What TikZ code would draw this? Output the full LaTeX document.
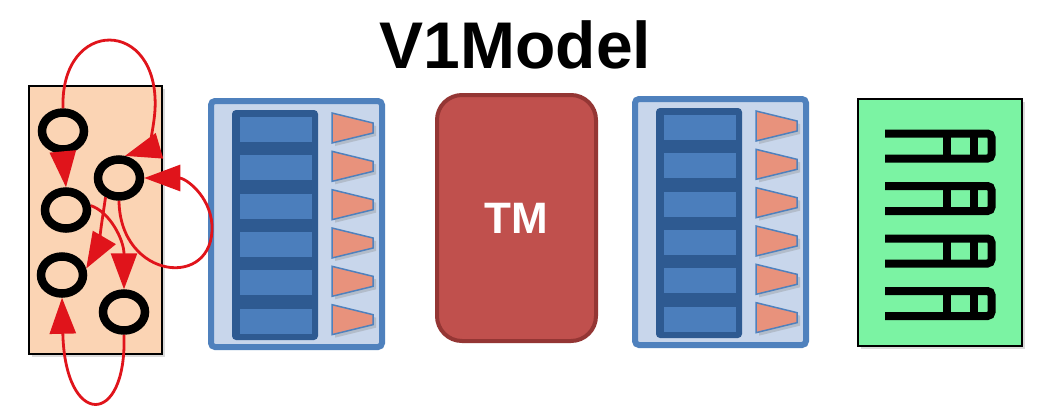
\documentclass[tikz,border=0pt]{standalone}
\usepackage{fontspec}
\setmainfont{Liberation Sans}
\usetikzlibrary{arrows.meta,shadows,shapes.geometric}
\definecolor{peach}{HTML}{FBD4B4}
\definecolor{mint}{HTML}{7BF3A3}
\definecolor{bankblue}{HTML}{4F81BD}
\definecolor{banklight}{HTML}{C8D6EB}
\definecolor{celldark}{HTML}{2E5A91}
\definecolor{celllight}{HTML}{4B7EBC}
\definecolor{salmon}{HTML}{E8927C}
\definecolor{tmfill}{HTML}{C0504D}
\definecolor{tmedge}{HTML}{943634}
\definecolor{arrred}{HTML}{E0141B}
\tikzset{
  softshadow/.style={drop shadow={opacity=0.28, shadow xshift=3pt, shadow yshift=-3pt}},
  cpubox/.style={draw=black, line width=2pt, fill=peach, softshadow, inner sep=0pt},
  statenode/.style={ellipse, draw=black, line width=8.5pt, minimum width=42pt, minimum height=37pt, inner sep=0pt},
  redarr/.style={draw=arrred, line width=2.8pt, arrows={-Triangle[length=36pt,width=26pt]}},
  bankframe/.style={draw=bankblue, line width=6pt, fill=banklight, rounded corners=4pt, inner sep=0pt},
  tmbox/.style={draw=tmedge, line width=4pt, fill=tmfill, rounded corners=25pt, inner sep=0pt, text=white, font=\fontsize{44}{44}\selectfont\bfseries},
  tblbox/.style={draw=black, line width=2pt, fill=mint, softshadow, inner sep=0pt},
  combline/.style={draw=black, line width=8pt},
  trap/.style={draw=bankblue, line width=1.5pt, fill=salmon, drop shadow={opacity=0.3, shadow xshift=3pt, shadow yshift=-3pt}},
}
\begin{document}
\begin{tikzpicture}[x=1pt,y=-1pt]
\useasboundingbox (0,0) rectangle (1043,408);
\fill[white] (0,0) rectangle (1043,408);

% title
\node[font=\fontsize{66}{66}\selectfont\bfseries, anchor=base, inner sep=0pt] (title) at (515.5,68) {V1Model};

% parser box
\node[cpubox, minimum width=133pt, minimum height=268pt] (parser) at (95.5,220) {};
\node[statenode] (c1) at (63,131) {};
\node[statenode] (c2) at (119,178) {};
\node[statenode] (c3) at (66,210) {};
\node[statenode] (c4) at (62,275) {};
\node[statenode] (c5) at (124,312) {};

% banks
\foreach \bx/\by/\nm in {208/98/b1, 632/96/b2} {
  \begin{scope}[shift={(\bx,\by)}]
    \node[bankframe, minimum width=171pt, minimum height=246pt] (\nm) at (88.5,126) {};
    \fill[celldark, rounded corners=4pt] (24,12) rectangle (110,242);
    \foreach \i in {0,...,5} {
      \fill[celllight] (32,{19+38.33*\i}) rectangle (104,{44+38.33*\i});
      \path[trap] (124,{15+38.33*\i}) -- (165,{25+38.33*\i}) -- (165,{35+38.33*\i}) -- (124,{45+38.33*\i}) -- cycle;
    }
  \end{scope}
}

% TM
\node[tmbox, minimum width=159pt, minimum height=246pt] (tm) at (516.5,218) {TM};

% table box
\node[tblbox, minimum width=164pt, minimum height=247pt] (tbl) at (940,222.5) {};
\foreach \t in {133.5,186,238.5,291} {
  \draw[combline, rounded corners=4pt] (885,\t) -- (991.5,\t) -- (991.5,{\t+25}) -- (885,{\t+25});
  \draw[combline] (946.5,\t) -- (946.5,{\t+25});
  \draw[combline] (973.5,\t) -- (973.5,{\t+25});
}

% transitions
\draw[redarr] (c1.north) .. controls (60,17) and (160,17) .. (155,110) .. controls (153,138) and (145,150) .. (c2.75);
\draw[redarr] (c1.south) -- (c3.north);
\draw[redarr] (c2.235) .. controls (100,235) and (97,250) .. (c4.15);
\draw[redarr] (c3.10) .. controls (110,212) and (124,240) .. (c5.north);
\draw[redarr] (c2.south) .. controls (120,280) and (215,290) .. (212,225) .. controls (210,195) and (185,178) .. (c2.east);
\draw[redarr] (c5.south) .. controls (127,428) and (65,428) .. (c4.south);
\end{tikzpicture}
\end{document}
